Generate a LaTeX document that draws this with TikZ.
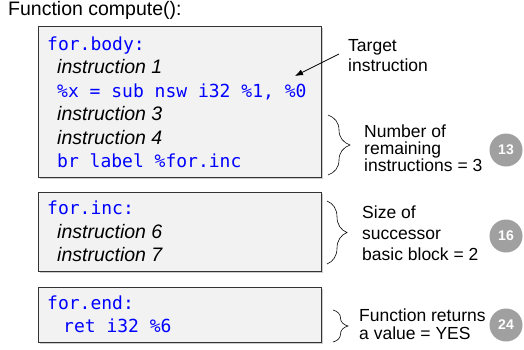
\documentclass[tikz,border=0pt]{standalone}
\usepackage{fontspec}
\setmainfont{Liberation Sans}
\setmonofont{DejaVu Sans Mono}
\usetikzlibrary{shadows,decorations.pathreplacing,arrows.meta}
\definecolor{boxgray}{HTML}{F2F2F2}
\definecolor{numgray}{HTML}{A0A0A0}
\tikzset{
    BX/.style ={rectangle, draw=black!80, fill=boxgray, line width=0.8pt, anchor=north west,
                drop shadow={shadow xshift=2pt, shadow yshift=-2pt, fill=black!40}},
    CD/.style ={anchor=base west, inner sep=0pt, text=blue, font=\fontsize{18}{18}\ttfamily},
    IN/.style ={anchor=base west, inner sep=0pt, font=\fontsize{19.5}{19.5}\itshape},
    NT/.style ={anchor=base west, inner sep=0pt, align=left, font=\fontsize{17.5}{#1}\selectfont},
    NUM/.style ={circle, fill=numgray, minimum size=33pt, inner sep=0pt, text=white, font=\fontsize{14}{14}\bfseries},
    BR/.style ={decorate, decoration={brace, amplitude=#1}, line width=0.6pt}}

\begin{document}
\begin{tikzpicture}[x=1pt, y=-1pt]
        \useasboundingbox (0,0) rectangle (524,349);
        \node[anchor=base west, inner sep=0pt, font=\fontsize{19.5}{19.5}\selectfont] (0) at (8,15) {Function compute():};
        % basic blocks
        \node[BX, minimum width=283pt, minimum height=151pt] (1) at (38,26) {};
        \node[CD] (11) at (47,50) {for.body:};
        \node[IN] (12) at (57,73.5) {instruction 1};
        \node[CD] (13) at (57,97) {\%x = sub nsw i32 \%1, \%0};
        \node[IN] (14) at (57,120.5) {instruction 3};
        \node[IN] (15) at (57,144) {instruction 4};
        \node[CD] (16) at (57,167.5) {br label \%for.inc};
        \node[BX, minimum width=283pt, minimum height=79pt] (2) at (38,192) {};
        \node[CD] (21) at (47,214.5) {for.inc:};
        \node[IN] (22) at (57,238) {instruction 6};
        \node[IN] (23) at (57,261.5) {instruction 7};
        \node[BX, minimum width=283pt, minimum height=55pt] (3) at (38,287) {};
        \node[CD] (31) at (47,309.5) {for.end:};
        \node[CD] (32) at (63,332.5) {ret i32 \%6};
        % notes (placed by the baseline of their last line)
        \node[NT=20] (4) at (348,71.7) {Target\\instruction};
        \node[NT=16.7] (5) at (364,171) {Number of\\remaining\\instructions = 3};
        \node[NT=21] (6) at (362,260) {Size of\\successor\\basic block = 2};
        \node[NT=17.5] (7) at (359,339) {Function returns\\a value = YES};
        \node[NUM] (8) at (506,150) {13};
        \node[NUM] (9) at (506,236) {16};
        \node[NUM] (10) at (506,325) {24};
        % braces and arrow
        \coordinate (b1) at (328,115);
        \coordinate (b2) at (328,175);
        \coordinate (b3) at (327,201);
        \coordinate (b4) at (327,264);
        \coordinate (b5) at (333,310);
        \coordinate (b6) at (333,342);
        \draw[BR=22] (b1) -- (b2);
        \draw[BR=20] (b3) -- (b4);
        \draw[BR=15] (b5) -- (b6);
        \coordinate (a1) at (339,54);
        \coordinate (a2) at (295,76);
        \draw[-{Latex[length=8pt,width=6pt]}, line width=0.7pt] (a1) -- (a2);
    \end{tikzpicture}
\end{document}
